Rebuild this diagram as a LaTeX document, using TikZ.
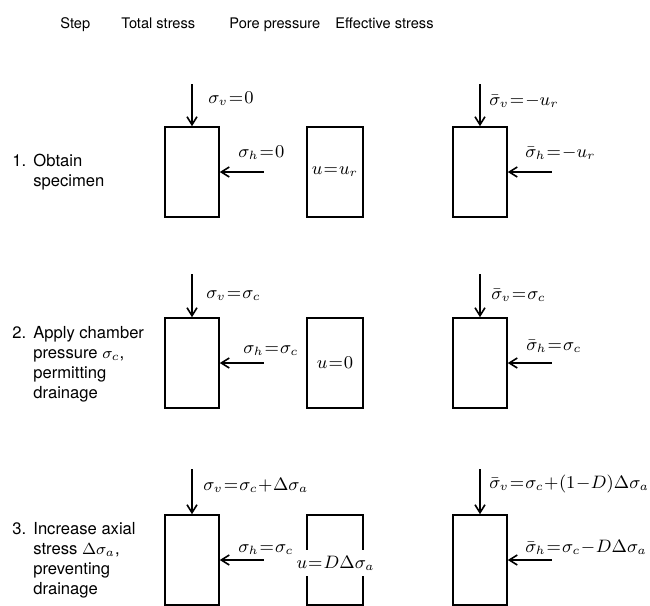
\documentclass[tikz,border=0pt]{standalone}
\usepackage{amsmath,amssymb}
\usepackage{fontspec}
\setmainfont{TeX Gyre Heros}
\usetikzlibrary{arrows.meta, positioning}

\newcommand{\tightmath}{\thickmuskip=1mu plus 1mu\medmuskip=0.5mu plus 1mu}

\begin{document}
\begin{tikzpicture}[
    x=0.5pt, y=-0.5pt,
    every node/.style={inner sep=0pt},
    sample/.style={
      rectangle, draw, line width=0.8pt,
      minimum width=27pt, minimum height=45pt,
      font=\fontsize{9}{11}\selectfont\tightmath
    },
    load/.style={-{Straight Barb[length=4pt, width=5pt]}, line width=0.8pt},
    head/.style={anchor=base west, font=\fontsize{7.3}{9}\selectfont},
    steptext/.style={anchor=base west, font=\fontsize{8.3}{10}\selectfont},
    val/.style={anchor=base west, font=\fontsize{9}{11}\selectfont\tightmath}
  ]
  \useasboundingbox (0,0) rectangle (650,606);

  \node[head] (hstep) at (60,28) {Step};
  \node[head] (htot) at (121,28) {Total stress};
  \node[head] (hpore) at (229,28) {Pore pressure};
  \node[head] (heff) at (335,28) {Effective stress};

  % 1. obtain specimen
  \node[steptext] (step1) at (12,166) {\begin{tabular}[t]{@{}p{10.5pt}@{}l@{}}1. & Obtain\\ & specimen\end{tabular}};
  \node[sample] (tot1) at (192,172) {};
  \node[sample, minimum width=28pt] (pore1) at (335,172) {$u=u_r$};
  \node[sample] (eff1) at (480,172) {};
  \coordinate[above=21pt of tot1] (tv1);
  \coordinate[right=22pt of tot1] (th1);
  \coordinate[above=21pt of eff1] (ev1);
  \coordinate[right=22pt of eff1] (eh1);
  \draw[load] (tv1) -- (tot1.north);
  \draw[load] (th1) -- (tot1.east);
  \draw[load] (ev1) -- (eff1.north);
  \draw[load] (eh1) -- (eff1.east);
  \node[val] (tsv1) at (208,103) {$\sigma_v=0$};
  \node[val] (tsh1) at (238,157) {$\sigma_h=0$};
  \node[val] (esv1) at (489,105) {$\bar\sigma_v=-u_r$};
  \node[val] (esh1) at (525,157) {$\bar\sigma_h=-u_r$};

  % 2. apply chamber pressure
  \node[steptext] (step2) at (12,338) {\begin{tabular}[t]{@{}p{10.5pt}@{}l@{}}2. & Apply chamber\\ & pressure $\sigma_c$,\\ & permitting\\ & drainage\end{tabular}};
  \node[sample] (tot2) at (192,363) {};
  \node[sample, minimum width=28pt] (pore2) at (335,363) {$u=0$};
  \node[sample] (eff2) at (480,363) {};
  \coordinate[above=21.5pt of tot2] (tv2);
  \coordinate[right=22pt of tot2] (th2);
  \coordinate[above=21.5pt of eff2] (ev2);
  \coordinate[right=22pt of eff2] (eh2);
  \draw[load] (tv2) -- (tot2.north);
  \draw[load] (th2) -- (tot2.east);
  \draw[load] (ev2) -- (eff2.north);
  \draw[load] (eh2) -- (eff2.east);
  \node[val] (tsv2) at (206,298) {$\sigma_v=\sigma_c$};
  \node[val] (tsh2) at (243,353) {$\sigma_h=\sigma_c$};
  \node[val] (esv2) at (491,299) {$\bar\sigma_v=\sigma_c$};
  \node[val] (esh2) at (526,350) {$\bar\sigma_h=\sigma_c$};

  % 3. increase axial stress
  \node[steptext] (step3) at (12,534) {\begin{tabular}[t]{@{}p{10.5pt}@{}l@{}}3. & Increase axial\\ & stress $\Delta\sigma_a$,\\ & preventing\\ & drainage\end{tabular}};
  \node[sample] (tot3) at (192,560) {};
  \node[sample, minimum width=28pt] (pore3) at (335,560) {};
  \node[val, anchor=base, fill=white, inner xsep=1pt, inner ysep=3pt] (u3) at (335.5,568) {$u=D\Delta\sigma_a$};
  \node[sample] (eff3) at (480,560) {};
  \coordinate[above=22.5pt of tot3] (tv3);
  \coordinate[right=22pt of tot3] (th3);
  \coordinate[above=22.5pt of eff3] (ev3);
  \coordinate[right=22pt of eff3] (eh3);
  \draw[load] (tv3) -- (tot3.north);
  \draw[load] (th3) -- (tot3.east);
  \draw[load] (ev3) -- (eff3.north);
  \draw[load] (eh3) -- (eff3.east);
  \node[val] (tsv3) at (203,490) {$\sigma_v=\sigma_c+\Delta\sigma_a$};
  \node[val] (tsh3) at (238,552) {$\sigma_h=\sigma_c$};
  \node[val] (esv3) at (489,488) {$\bar\sigma_v=\sigma_c+(1-D)\Delta\sigma_a$};
  \node[val] (esh3) at (525,552) {$\bar\sigma_h=\sigma_c-D\Delta\sigma_a$};
\end{tikzpicture}
\end{document}
